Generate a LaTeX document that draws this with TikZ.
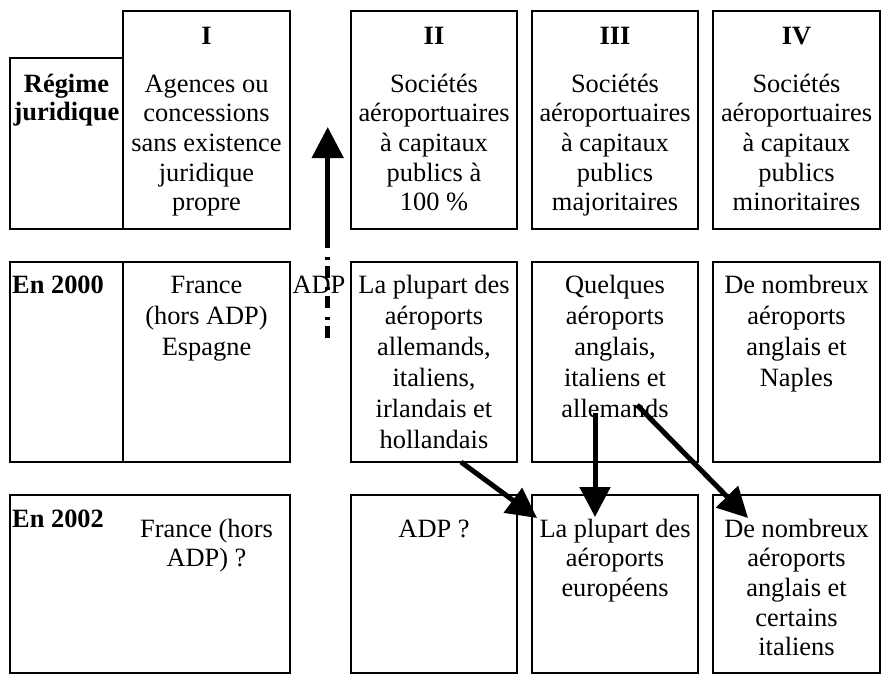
\documentclass[tikz,border=0pt]{standalone}
\usepackage{fontspec}
\setmainfont{Liberation Serif}
\usetikzlibrary{arrows.meta}
\newcommand{\mystrut}{\rule{0pt}{20pt}}
\begin{document}
\begin{tikzpicture}[x=1pt,y=-1pt,
  box/.style={draw, line width=2pt, inner sep=0pt},
  tx/.style={anchor=north, inner sep=0pt, align=center, font={\fontsize{26.4pt}{29.6pt}\selectfont}},
  txw/.style={anchor=north, inner sep=0pt, align=center, font={\fontsize{26.4pt}{31pt}\selectfont}},
  txb/.style={anchor=north, inner sep=0pt, align=center, font={\fontsize{26.4pt}{28.4pt}\selectfont\bfseries}},
  ttl/.style={anchor=base, inner sep=0pt, font={\fontsize{26.4pt}{28.4pt}\selectfont\bfseries}},
  lbl/.style={anchor=base, inner sep=0pt, font={\fontsize{26.4pt}{28.4pt}\selectfont}},
  arr/.style={line width=5pt, -{Triangle[length=30pt,width=30pt]}},
]
\useasboundingbox (0,0) rectangle (885,682);
% row 1 boxes
\node[box, minimum width=113pt, minimum height=171pt] (rj) at (66.5,143.5) {};
\node[box, minimum width=167pt, minimum height=218pt] (c1) at (206.5,120) {};
\node[box, minimum width=166pt, minimum height=218pt] (c2) at (434,120) {};
\node[box, minimum width=166pt, minimum height=218pt] (c3) at (615,120) {};
\node[box, minimum width=167pt, minimum height=218pt] (c4) at (796.5,120) {};
% row 2 boxes
\node[box, minimum width=113pt, minimum height=200pt] (a2) at (66.5,362) {};
\node[box, minimum width=167pt, minimum height=200pt] (b2) at (206.5,362) {};
\node[box, minimum width=166pt, minimum height=200pt] (d2) at (434,362) {};
\node[box, minimum width=166pt, minimum height=200pt] (e2) at (615,362) {};
\node[box, minimum width=167pt, minimum height=200pt] (f2) at (796.5,362) {};
% row 3 boxes
\node[box, minimum width=280pt, minimum height=178pt] (a3) at (150,584) {};
\node[box, minimum width=166pt, minimum height=178pt] (d3) at (434,584) {};
\node[box, minimum width=166pt, minimum height=178pt] (e3) at (615,584) {};
\node[box, minimum width=167pt, minimum height=178pt] (f3) at (796.5,584) {};
% row 1 texts
\node[txb] (trj) at (66.5,72) {\mystrut R\'egime\\juridique};
\node[ttl] (t1) at (206.5,45) {I};
\node[ttl] (t2) at (434,45) {II};
\node[ttl] (t3) at (615,45) {III};
\node[ttl] (t4) at (796.5,45) {IV};
\node[tx] (x1) at (206.5,72) {\mystrut Agences ou\\concessions\\sans existence\\juridique\\propre};
\node[tx] (x2) at (434,72) {\mystrut Sociétés\\aéroportuaires\\à capitaux\\publics à\\100~\%};
\node[tx] (x3) at (615,72) {\mystrut Sociétés\\aéroportuaires\\à capitaux\\publics\\majoritaires};
\node[tx] (x4) at (796.5,72) {\mystrut Sociétés\\aéroportuaires\\à capitaux\\publics\\minoritaires};
% row 2 texts
\node[ttl, anchor=base west] (y0) at (12,293) {En 2000};
\node[txw] (y1) at (206.5,273) {\mystrut France\\(hors ADP)\\Espagne};
\node[lbl] (adp) at (319,293) {ADP};
\node[txw] (y2) at (434,273) {\mystrut La plupart des\\aéroports\\allemands,\\italiens,\\irlandais et\\hollandais};
\node[txw] (y3) at (615,273) {\mystrut Quelques\\aéroports\\anglais,\\italiens et\\allemands};
\node[txw] (y4) at (796.5,273) {\mystrut De nombreux\\aéroports\\anglais et\\Naples};
% row 3 texts
\node[ttl, anchor=base west] (z0) at (12,527) {En 2002};
\node[tx] (z1) at (206.5,517) {\mystrut France (hors\\ADP)~?};
\node[lbl] (z2) at (434,537) {ADP~?};
\node[tx] (z3) at (615,517) {\mystrut La plupart des\\aéroports\\européens};
\node[tx] (z4) at (796.5,517) {\mystrut De nombreux\\aéroports\\anglais et\\certains\\italiens};
% connectors
\coordinate (u0) at (327.7,338);
\coordinate (u1) at (327.7,242);
\coordinate (u2) at (327.7,127);
\draw[line width=5pt, dash pattern=on 12pt off 6pt on 3pt off 9pt] (u0) -- (u1);
\draw[line width=5pt, -{Triangle[length=31pt,width=31pt]}] (u1) -- (u2);
\coordinate (p1) at (461,462);
\coordinate (q1) at (537,518);
\draw[arr] (p1) -- (q1);
\coordinate (p2) at (595,413);
\coordinate (q2) at (595,517);
\draw[arr] (p2) -- (q2);
\coordinate (p3) at (637,405);
\coordinate (q3) at (748,518);
\draw[arr] (p3) -- (q3);
\end{tikzpicture}
\end{document}
